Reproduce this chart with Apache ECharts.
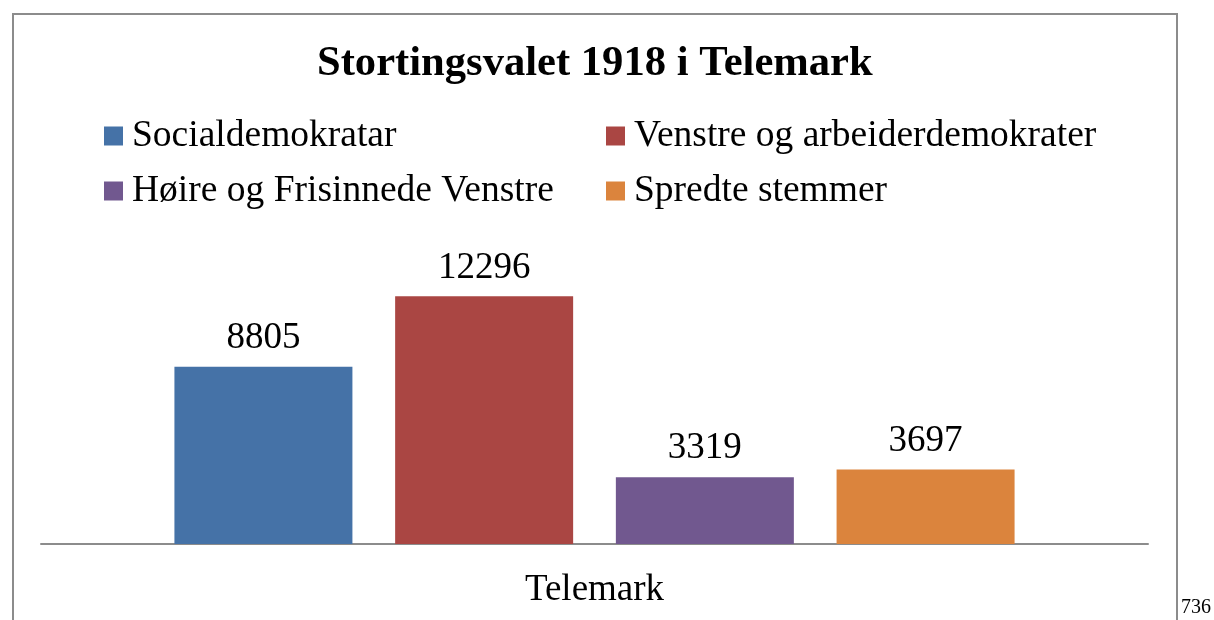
<!DOCTYPE html>
<html>
<head>
<meta charset="utf-8">
<style>
html,body{margin:0;padding:0;background:#fff;}
#chart{width:1214px;height:620px;}
</style>
<script src="https://cdn.jsdelivr.net/npm/echarts@6/dist/echarts.min.js"></script>
</head>
<body>
<div id="chart"></div>
<script>
const titleText = 'Stortingsvalet 1918 i Telemark';
const categories = ['Telemark'];
const seriesNames = ['Socialdemokratar', 'Venstre og arbeiderdemokrater', 'Høire og Frisinnede Venstre', 'Spredte stemmer'];
const seriesValues = [[8805], [12296], [3319], [3697]];
const seriesColors = ['#4572A7', '#AA4643', '#71588F', '#DB843D'];
const pageNumber = '736';

const FONT = "'Liberation Serif', 'Times New Roman', serif";
const chart = echarts.init(document.getElementById('chart'), null, {renderer: 'canvas'});

const series = seriesNames.map((name, i) => ({
  name: name,
  type: 'bar',
  data: seriesValues[i],
  barWidth: 178,
  barGap: '24%',
  itemStyle: {color: seriesColors[i]},
  label: {
    show: true,
    position: 'top',
    distance: 10,
    color: '#000',
    fontFamily: FONT,
    fontSize: 37
  }
}));

const legendText = {
  color: '#000',
  fontFamily: FONT,
  fontSize: 37.5,
  lineHeight: 40,
  padding: [0, 0, 0, 4]
};

chart.setOption({
  animation: false,
  backgroundColor: '#fff',
  title: {
    text: titleText,
    left: 312,
    top: 37,
    textStyle: {color: '#000', fontFamily: FONT, fontSize: 42.6, fontWeight: 'bold'}
  },
  legend: [
    {
      data: [seriesNames[0], seriesNames[2]],
      orient: 'vertical',
      left: 99,
      top: 111,
      itemWidth: 19,
      itemHeight: 19,
      itemGap: 15,
      icon: 'rect',
      selectedMode: false,
      textStyle: legendText
    },
    {
      data: [seriesNames[1], seriesNames[3]],
      orient: 'vertical',
      left: 601,
      top: 111,
      itemWidth: 19,
      itemHeight: 19,
      itemGap: 15,
      icon: 'rect',
      selectedMode: false,
      textStyle: legendText
    }
  ],
  grid: {left: 41, right: 66, top: 262, bottom: 76, containLabel: false},
  xAxis: {
    type: 'category',
    data: categories,
    axisLine: {show: true, lineStyle: {color: '#8c8c8c', width: 2}},
    axisTick: {show: false},
    axisLabel: {color: '#000', fontFamily: FONT, fontSize: 37, margin: 28},
    splitLine: {show: false}
  },
  yAxis: {
    type: 'value',
    min: 0,
    max: 14000,
    show: false,
    splitLine: {show: false}
  },
  series: series,
  graphic: [
    {
      type: 'rect',
      shape: {x: 13, y: 14, width: 1164, height: 700},
      style: {fill: 'none', stroke: '#8c8c8c', lineWidth: 2},
      silent: true
    },
    {
      type: 'text',
      left: 1181,
      top: 598,
      style: {text: pageNumber, fill: '#000', font: "20px 'Liberation Serif', 'Times New Roman', serif"}
    }
  ]
});
</script>
</body>
</html>
